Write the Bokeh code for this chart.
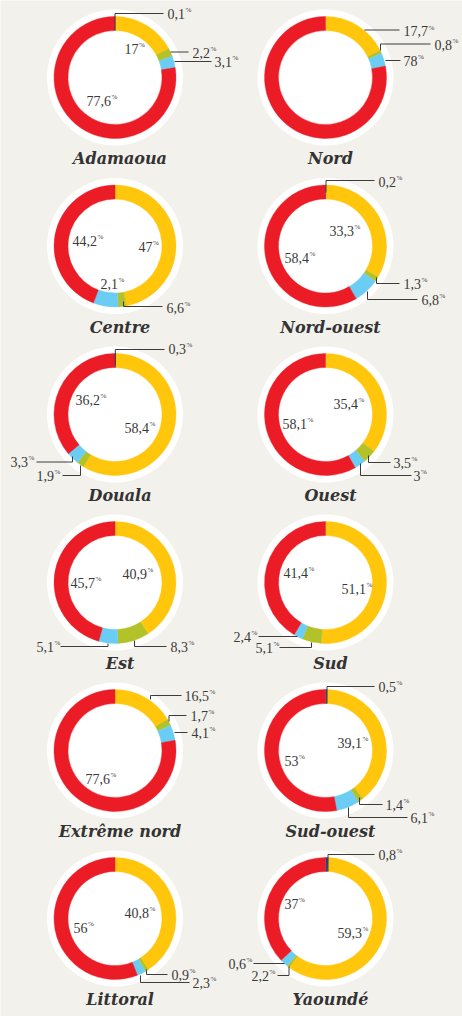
import math
from bokeh.plotting import figure
from bokeh.models import Range1d, ColumnDataSource
from bokeh.embed import file_html
from bokeh.resources import INLINE
from bokeh.core.properties import value

# ---------------- data ----------------
regions = ["Adamaoua", "Nord", "Centre", "Nord-ouest", "Douala", "Ouest",
           "Est", "Sud", "Extrême nord", "Sud-ouest", "Littoral", "Yaoundé"]
navy   = [0.1, 0.0, 0.0, 0.2, 0.3, 0.0, 0.0, 0.0, 0.0, 0.5, 0.0, 0.8]
yellow = [17.0, 17.7, 47.0, 33.3, 58.4, 35.4, 40.9, 51.1, 16.5, 39.1, 40.8, 59.3]
green  = [2.2, 0.8, 2.1, 1.3, 1.9, 3.5, 8.3, 5.1, 1.7, 1.4, 0.9, 0.6]
blue   = [3.1, 3.5, 6.6, 6.8, 3.3, 3.0, 5.1, 2.4, 4.1, 6.1, 2.3, 2.2]
red    = [77.6, 78.0, 44.2, 58.4, 36.2, 58.1, 45.7, 41.4, 77.6, 53.0, 56.0, 37.0]

series_names = ["navy", "yellow", "green", "blue", "red"]
series_vals = {"navy": navy, "yellow": yellow, "green": green, "blue": blue, "red": red}

# ---------------- styles / layout ----------------
colors = {"navy": "#2e3a8c", "yellow": "#ffc60b", "green": "#b4c229",
          "blue": "#6bcdf4", "red": "#ec1c27"}
BG = "#f3f1ec"
TXT = "#3a3a3a"
LINE = "#3c3c3c"
centers_x = [114.5, 325.0]
centers_y = [77.0, 245.5, 414.0, 582.0, 750.0, 918.0]
R_IN, R_OUT, R_BG = 47, 61, 68
FS = 14
W, H = 462, 1016

# label layout per region: (series, text_left_x, text_center_y, leader xs, leader ys) in page px
label_layout = {
    "Adamaoua": [("navy", 167, 13, [114.5, 114.5, 163], [30, 13, 13]),
                 ("yellow", 124, 48, None, None),
                 ("green", 192, 52, [170, 188], [51.5, 51.5]),
                 ("blue", 214, 61, [174, 211], [61, 61]),
                 ("red", 86, 100, None, None)],
    "Nord": [("yellow", 403, 30.5, [364, 399], [29.5, 29.5]),
             ("green", 434, 44, [380, 380, 430], [50, 43.5, 43.5]),
             ("red", 403, 60, [385, 400], [60, 60])],
    "Centre": [("red", 72, 240, None, None),
               ("yellow", 138, 246, None, None),
               ("green", 100, 283, None, None),
               ("blue", 166, 307, [123, 123, 162], [301, 306, 306])],
    "Nord-ouest": [("navy", 378, 181, [325.5, 325.5, 374], [192, 180, 180]),
                   ("yellow", 329, 230, None, None),
                   ("red", 284, 257, None, None),
                   ("green", 403, 283, [376, 376, 399], [277, 283, 283]),
                   ("blue", 421, 299, [367, 367, 417], [291, 299, 299])],
    "Douala": [("navy", 168, 348, [114.8, 114.8, 164], [365, 349, 349]),
               ("red", 75, 399, None, None),
               ("yellow", 124, 427, None, None),
               ("blue", 10, 461, [72, 72, 36], [456, 461.5, 461.5]),
               ("green", 36, 475, [80, 80, 62], [465, 475, 475])],
    "Ouest": [("yellow", 333, 403, None, None),
              ("red", 282, 423, None, None),
              ("green", 393, 462, [368, 368, 390], [455, 462, 462]),
              ("blue", 413, 475, [360, 360, 411], [463, 475, 475])],
    "Est": [("red", 70, 582, None, None),
            ("yellow", 122, 573, None, None),
            ("blue", 36, 646, [60, 107.5, 107.5], [646, 646, 643]),
            ("green", 170, 646, [134, 134, 166], [640, 646, 646])],
    "Sud": [("red", 283, 572, None, None),
            ("yellow", 341, 588, None, None),
            ("blue", 233, 636, [258, 297], [636, 636]),
            ("green", 255, 647, [279, 311, 311], [647, 647, 642])],
    "Extrême nord": [("yellow", 184, 695, [150, 150, 181], [699, 695, 695]),
                     ("green", 190, 715, [168.5, 168.5, 186], [721, 715, 715]),
                     ("blue", 191, 732, [174, 187], [732, 732]),
                     ("red", 85, 778, None, None)],
    "Sud-ouest": [("navy", 378, 686, [326.5, 326.5, 374], [703, 686, 686]),
                  ("yellow", 337, 742, None, None),
                  ("red", 284, 760, None, None),
                  ("green", 385, 804, [359, 359, 382], [797, 804, 804]),
                  ("blue", 410, 817, [348, 348, 407], [807, 817, 817])],
    "Littoral": [("red", 73, 927, None, None),
                 ("yellow", 124, 912, None, None),
                 ("green", 171, 974, [146, 146, 167], [969, 974, 974]),
                 ("blue", 192, 982, [140, 140, 189], [975, 982, 982])],
    "Yaoundé": [("navy", 378, 854, [327.5, 327.5, 374], [871, 854, 854]),
                ("red", 284, 903, None, None),
                ("yellow", 337, 932, None, None),
                ("green", 228, 963, [253, 284], [963, 963]),
                ("blue", 251, 975, [277, 288.5, 288.5], [975, 975, 966])],
}
TITLE_DX, TITLE_DY = 5, 81


def Y(v):
    return -v


def fmt(v):
    return f"{v:g}".replace(".", ",")


def num_width(s):
    return sum(0.25 * FS if ch == "," else 0.5 * FS for ch in s)


p = figure(width=W, height=H, x_range=Range1d(0, W), y_range=Range1d(-H, 0),
           x_axis_type=None, y_axis_type=None, toolbar_location=None,
           output_backend="svg", min_border=0)
p.grid.visible = False
p.outline_line_color = None
p.background_fill_color = BG
p.border_fill_color = BG

wx, wy, a0s, a1s, wc = [], [], [], [], []
bgx, bgy = [], []
tx, ty, tt = [], [], []
px_, py_, pt = [], [], []
lxs, lys = [], []
hx, hy, ht = [], [], []

for i, name in enumerate(regions):
    cx = centers_x[i % 2]
    cy = centers_y[i // 2]
    bgx.append(cx)
    bgy.append(Y(cy))
    vals = [series_vals[s][i] for s in series_names]
    total = sum(vals)
    cum = 0.0
    for s, v in zip(series_names, vals):
        if v <= 0:
            continue
        a0 = math.pi / 2 - 2 * math.pi * cum / total
        cum += v
        a1 = math.pi / 2 - 2 * math.pi * cum / total
        wx.append(cx); wy.append(Y(cy)); a0s.append(a0); a1s.append(a1); wc.append(colors[s])
    for s, lx, ly, lnx, lny in label_layout[name]:
        txt = fmt(series_vals[s][i])
        tx.append(lx); ty.append(Y(ly)); tt.append(txt)
        px_.append(lx + num_width(txt) + 0.5); py_.append(Y(ly - 3.5)); pt.append("%")
        if lnx is not None:
            lxs.append(lnx); lys.append([Y(v) for v in lny])
    hx.append(cx + TITLE_DX); hy.append(Y(cy + TITLE_DY)); ht.append(name)

p.circle(x=bgx, y=bgy, radius=R_BG, fill_color="white", line_color=None)
p.annular_wedge(x="x", y="y", inner_radius=R_IN, outer_radius=R_OUT,
                start_angle="a0", end_angle="a1", direction="clock",
                fill_color="c", line_color="c", line_width=0.4,
                source=ColumnDataSource(dict(x=wx, y=wy, a0=a0s, a1=a1s, c=wc)))
p.multi_line(xs=lxs, ys=lys, line_color=LINE, line_width=1)
p.text(x=tx, y=ty, text=tt, text_font=value("Liberation Serif"), text_font_size=f"{FS}px",
       text_baseline="middle", text_align="left", text_color=TXT)
p.text(x=px_, y=py_, text=pt, text_font=value("Liberation Serif"), text_font_size="7px",
       text_baseline="middle", text_align="left", text_color=TXT)
p.text(x=hx, y=hy, text=ht, text_font=value("DejaVu Serif"), text_font_size="16px",
       text_font_style="bold italic", text_baseline="middle", text_align="center",
       text_color="#333333")

html = file_html(p, INLINE, title="Régions")
html = html.replace("<body>", f'<body style="background-color:{BG};margin:0;">', 1)
open("out.html", "w").write(html)
